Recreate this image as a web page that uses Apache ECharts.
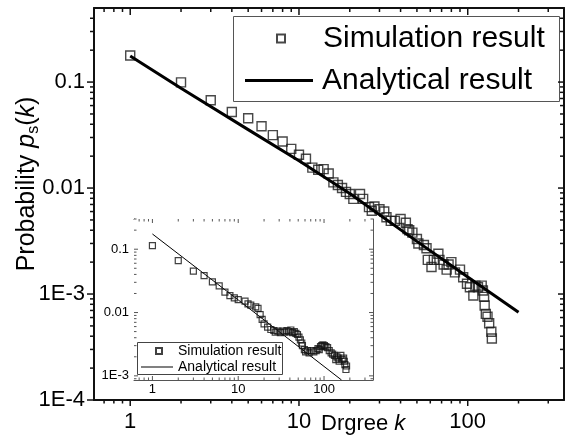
<!DOCTYPE html>
<html><head><meta charset="utf-8">
<script src="https://cdn.jsdelivr.net/npm/echarts@6/dist/echarts.min.js"></script>
<style>html,body{margin:0;padding:0;background:#fff}#c{width:571px;height:441px}</style>
</head><body><div id="c"></div>
<script>
// ---- main panel data ----
const mainSimK = [1,2,3,4,5,6,7,8,9,10,11,12,13,14,15,16,17,18,19,20,21,23,24,26,27,28,30,32,33,35,37,40,43,44,45,47,50,51,55,57,58,61,63,67,68,72,75,77,80,84,90,94,99,103,108,111,115,121,123,125,126,128,131,134,138,139];
const mainSimP = [0.178,0.0993,0.0673,0.0522,0.0455,0.0383,0.0316,0.0275,0.0234,0.0206,0.0189,0.0156,0.0149,0.0151,0.0137,0.0113,0.0107,0.0100,0.0092,0.0088,0.0079,0.0088,0.0079,0.0066,0.0061,0.0067,0.0063,0.0060,0.0053,0.0049,0.0049,0.0051,0.0047,0.0041,0.0040,0.0038,0.0033,0.0030,0.0029,0.0027,0.0021,0.0018,0.0021,0.0024,0.0021,0.0019,0.0017,0.0019,0.0020,0.0016,0.0017,0.00144,0.00125,0.00116,0.00097,0.0012,0.00116,0.0012,0.00108,0.00094,0.00078,0.00065,0.00061,0.00053,0.00044,0.00038];
const mainLineK = [1,2,5,10,20,50,100,200];
const mainLineP = [0.176,0.0873,0.0356,0.0181,0.0089,0.00314,0.00145,0.000673];
// ---- inset data ----
const insetSimK = [1,2,3,4,5,6,7,8,9,10,12,13,14,16,17,18,19,20,22,24,26,27,29,31,33,35,37,39,41,43,45,47,49,51,53,55,56,59,61,64,67,72,76,81,85,88,91,94,97,101,105,110,115,121,126,132,137,141,146,150,157,163,169,172,175,180,183];
const insetSimP = [0.114,0.066,0.045,0.0384,0.0305,0.0264,0.021,0.0185,0.0171,0.016,0.0151,0.0137,0.0131,0.0123,0.0116,0.0093,0.0078,0.0066,0.0059,0.0054,0.0052,0.0049,0.0051,0.0048,0.0051,0.0049,0.0052,0.0050,0.0053,0.0048,0.0050,0.0047,0.0045,0.0041,0.0037,0.0033,0.0030,0.0026,0.0024,0.0025,0.0023,0.0025,0.0024,0.0025,0.0027,0.0026,0.0029,0.0030,0.0031,0.0030,0.0029,0.0028,0.0025,0.0023,0.0022,0.0021,0.0018,0.0020,0.0019,0.0017,0.0021,0.0018,0.0019,0.0017,0.0015,0.00126,0.00143];
const insetLineK = [1,10,160];
const insetLineP = [0.174,0.0158,0.00086];
// ---- axis ranges / tick labels ----
const xRange = [0.61, 372];
const mainYRange = [0.0001, 0.5];
const insetYRange = [0.00086, 0.30];
const xTickLabels = {'0':'1','1':'10','2':'100'};
const yTickLabels = {'-1':'0.1','-2':'0.01','-3':'1E-3','-4':'1E-4'};
const xMajor = [1,10,100];
const xMinor = [0.7,0.8,0.9,2,3,4,5,6,7,8,9,20,30,40,50,60,70,80,90,200,300];
const mainYMajor = [0.0001,0.001,0.01,0.1];
const mainYMinor = [0.0002,0.0003,0.0004,0.0005,0.0006,0.0007,0.0008,0.0009,0.002,0.003,0.004,0.005,0.006,0.007,0.008,0.009,0.02,0.03,0.04,0.05,0.06,0.07,0.08,0.09,0.2,0.3,0.4];
const insetYMajor = [0.001,0.01,0.1];
const insetYMinor = [0.0009,0.002,0.003,0.004,0.005,0.006,0.007,0.008,0.009,0.02,0.03,0.04,0.05,0.06,0.07,0.08,0.09,0.2,0.3];

const FONT = 'Liberation Sans, Arial, sans-serif';
function pow10Label(map){
  return function(v){
    const e = Math.log10(v), r = Math.round(e);
    if (Math.abs(e - r) > 1e-6) return '';
    return map[String(r)] || '';
  };
}
const zip = (a,b) => a.map((v,i)=>[v,b[i]]);

function axisBase(gridIndex, range, pos, lineColor, lineWidth, showLabel, labelOpt){
  return {
    type:'log', logBase:10, gridIndex, position:pos, min:range[0], max:range[1],
    axisLine:{show:true, onZero:false, lineStyle:{color:lineColor, width:lineWidth}},
    axisTick:{show:false}, splitLine:{show:false}, minorTick:{show:false},
    axisLabel: Object.assign({show:showLabel}, labelOpt||{})
  };
}

function tickSeries(xi, yi, side, majors, minors, majLen, minLen, anchor, outward, color, lw){
  const data = [];
  const push = (v,len) => {
    if (side==='bottom'||side==='top') data.push([v, anchor, len]);
    else data.push([anchor, v, len]);
  };
  majors.forEach(v=>push(v,majLen));
  minors.forEach(v=>push(v,minLen));
  return {
    type:'custom', xAxisIndex:xi, yAxisIndex:yi, silent:true, clip:false, z:6,
    encode:{x:0,y:1}, data,
    renderItem(params, api){
      const p = api.coord([api.value(0), api.value(1)]);
      const len = api.value(2);
      let dx=0, dy=0;
      if (side==='bottom') dy = outward? len : -len;
      if (side==='top') dy = outward? -len : len;
      if (side==='left') dx = outward? -len : len;
      if (side==='right') dx = outward? len : -len;
      return {type:'line', shape:{x1:p[0], y1:p[1], x2:p[0]+dx, y2:p[1]+dy},
              style:{stroke:color, lineWidth:lw}};
    }
  };
}

const mainLabelX = {color:'#000', fontSize:22, fontFamily:FONT, margin:11, formatter:pow10Label(xTickLabels)};
const mainLabelY = {color:'#000', fontSize:22, fontFamily:FONT, margin:9, formatter:pow10Label(yTickLabels)};
const insLabelX = {color:'#000', fontSize:13, fontFamily:FONT, margin:3, formatter:pow10Label(xTickLabels)};
const insLabelY = {color:'#000', fontSize:13, fontFamily:FONT, margin:5, formatter:pow10Label(yTickLabels)};

const option = {
  animation:false,
  backgroundColor:'#fff',
  grid:[
    {left:94, top:8, width:470, height:392},
    {left:134, top:219, width:239, height:161, show:true, backgroundColor:'#fff', borderWidth:0, z:3}
  ],
  xAxis:[
    axisBase(0, xRange, 'bottom', '#111', 2, true, mainLabelX),
    axisBase(0, xRange, 'top', '#111', 2, false),
    axisBase(1, xRange, 'bottom', '#555', 1, true, insLabelX),
    axisBase(1, xRange, 'top', '#555', 1, false)
  ],
  yAxis:[
    axisBase(0, mainYRange, 'left', '#111', 2, true, mainLabelY),
    axisBase(0, mainYRange, 'right', '#111', 2, false),
    axisBase(1, insetYRange, 'left', '#555', 1, true, insLabelY),
    axisBase(1, insetYRange, 'right', '#555', 1, false)
  ],
  legend:[
    {data:[{name:'Simulation result', icon:'rect'}], left:276, top:23, padding:0, itemWidth:8, itemHeight:8, selectedMode:false, z:5,
     textStyle:{fontSize:30, fontFamily:FONT, color:'#000', lineHeight:31, padding:[0,0,0,33]}},
    {data:[{name:'Analytical result', icon:'rect', itemStyle:{color:'#000'}}], left:245, top:65, padding:0, itemWidth:68, itemHeight:3, selectedMode:false, z:5,
     textStyle:{fontSize:30, fontFamily:FONT, color:'#000', lineHeight:31, padding:[0,0,0,4]}},
    {data:[{name:'Simulation result (inset)', icon:'rect'}], left:155, top:344, padding:0, itemWidth:6, itemHeight:6, selectedMode:false, z:5,
     formatter:n=>n.replace(' (inset)',''),
     textStyle:{fontSize:14, fontFamily:FONT, color:'#000', lineHeight:14, padding:[0,0,0,11]}},
    {data:[{name:'Analytical result (inset)', icon:'rect', itemStyle:{color:'#000'}}], left:141, top:360, padding:0, itemWidth:32, itemHeight:1, selectedMode:false, z:5,
     formatter:n=>n.replace(' (inset)',''),
     textStyle:{fontSize:14, fontFamily:FONT, color:'#000', lineHeight:14}}
  ],
  graphic:[
    {type:'rect', z:3, shape:{x:233.5, y:16.5, width:326, height:85}, style:{fill:'#fff', stroke:'#555', lineWidth:1}},
    {type:'rect', z:4, shape:{x:137.5, y:342.5, width:145, height:32}, style:{fill:'#fff', stroke:'#444', lineWidth:1}},
    {type:'text', z:5, x:27, y:184, rotation:Math.PI/2,
     style:{text:'{a|Probability }{i|p}{s|s}{a|(}{i|k}{a|)}', align:'center', verticalAlign:'middle',
       rich:{a:{fontSize:25, fontFamily:FONT, fill:'#000', lineHeight:29},
             i:{fontSize:25, fontFamily:FONT, fontStyle:'italic', fill:'#000', lineHeight:29},
             s:{fontSize:16, fontFamily:FONT, fill:'#000', verticalAlign:'bottom', lineHeight:16}}}},
    {type:'text', z:5, x:321, y:424,
     style:{text:'{a|Drgree }{i|k}', align:'left', verticalAlign:'middle',
       rich:{a:{fontSize:22, fontFamily:FONT, fill:'#000'}, i:{fontSize:22, fontFamily:FONT, fontStyle:'italic', fill:'#000'}}}}
  ],
  series:[
    {name:'Simulation result', type:'scatter', xAxisIndex:0, yAxisIndex:0, symbol:'rect', symbolSize:9, z:3,
     itemStyle:{color:'rgba(0,0,0,0)', borderColor:'#1a1a1a', borderWidth:1.4}, data:zip(mainSimK, mainSimP)},
    {name:'Analytical result', type:'line', xAxisIndex:0, yAxisIndex:0, symbol:'none', z:4,
     itemStyle:{color:'#000'}, lineStyle:{color:'#000', width:3}, data:zip(mainLineK, mainLineP)},
    {name:'Simulation result (inset)', type:'scatter', xAxisIndex:2, yAxisIndex:2, symbol:'rect', symbolSize:6, z:5,
     itemStyle:{color:'rgba(0,0,0,0)', borderColor:'#111', borderWidth:1.2}, data:zip(insetSimK, insetSimP)},
    {name:'Analytical result (inset)', type:'line', xAxisIndex:2, yAxisIndex:2, symbol:'none', z:5, clip:true,
     itemStyle:{color:'#000'}, lineStyle:{color:'#000', width:1}, data:zip(insetLineK, insetLineP)},
    tickSeries(0,0,'bottom', xMajor, xMinor, 6, 3.5, mainYRange[0], true, '#111', 1.5),
    tickSeries(1,1,'top', xMajor, xMinor, 7, 4, mainYRange[1], false, '#111', 1.5),
    tickSeries(0,0,'left', mainYMajor, mainYMinor, 7, 4, xRange[0], true, '#111', 1.5),
    tickSeries(1,1,'right', mainYMajor, mainYMinor, 6, 4, xRange[1], false, '#111', 1.5),
    tickSeries(2,2,'bottom', xMajor, xMinor, 4, 2.5, insetYRange[0], false, '#555', 1),
    tickSeries(3,3,'top', xMajor, xMinor, 4, 2.5, insetYRange[1], false, '#555', 1),
    tickSeries(2,2,'left', insetYMajor, insetYMinor, 4, 2.5, xRange[0], false, '#555', 1),
    tickSeries(3,3,'right', insetYMajor, insetYMinor, 4, 2.5, xRange[1], false, '#555', 1)
  ]
};
const chart = echarts.init(document.getElementById('c'), null, {renderer:'canvas'});
chart.setOption(option);
</script></body></html>
